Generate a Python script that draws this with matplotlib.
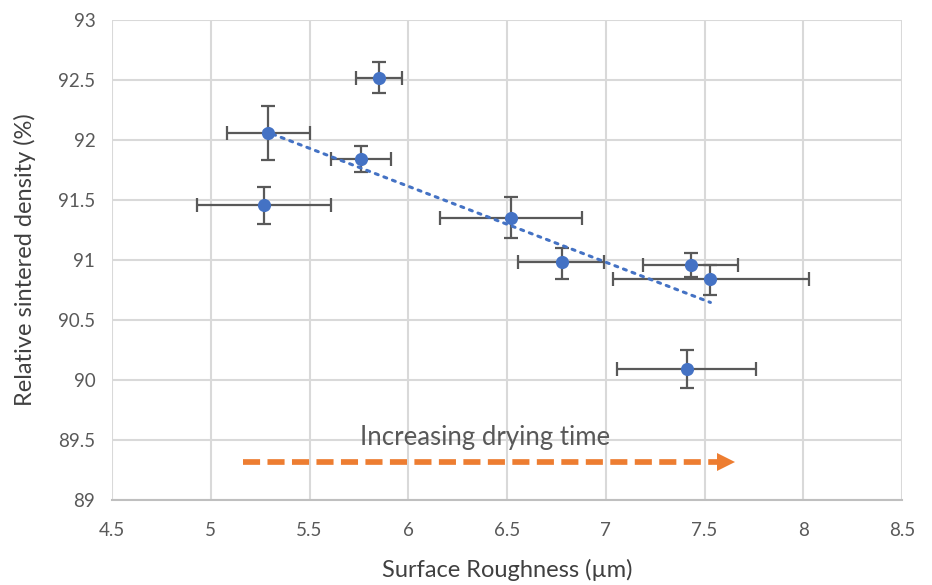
import matplotlib
matplotlib.use("Agg")
import matplotlib.pyplot as plt
import numpy as np

# Data
roughness = [5.29, 5.85, 5.76, 5.27, 6.52, 6.78, 7.43, 7.53, 7.41]
density = [92.06, 92.52, 91.84, 91.46, 91.35, 90.98, 90.96, 90.84, 90.09]
x_lo = [5.08, 5.735, 5.61, 4.93, 6.16, 6.557, 7.188, 7.036, 7.058]
x_hi = [5.50, 5.966, 5.912, 5.608, 6.879, 6.991, 7.671, 8.027, 7.759]
y_lo = [91.83, 92.39, 91.73, 91.30, 91.18, 90.84, 90.86, 90.71, 89.93]
y_hi = [92.28, 92.65, 91.95, 91.61, 91.525, 91.10, 91.06, 90.96, 90.25]
x_ticks = [4.5, 5, 5.5, 6, 6.5, 7, 7.5, 8, 8.5]
y_ticks = [89, 89.5, 90, 90.5, 91, 91.5, 92, 92.5, 93]
annotation_text = "Increasing drying time"

plt.rcParams['font.family'] = ['Lato', 'DejaVu Sans']

fig = plt.figure(figsize=(9.32, 5.85), dpi=100)
ax = fig.add_axes([112/932, 1-500/585, (902-112)/932, (500-20)/585])

x = np.array(roughness)
y = np.array(density)
xerr = np.vstack([x - np.array(x_lo), np.array(x_hi) - x])
yerr = np.vstack([y - np.array(y_lo), np.array(y_hi) - y])

ax.errorbar(x, y, xerr=xerr, yerr=yerr, fmt='none', ecolor='#595959',
            elinewidth=1.6, capsize=5, capthick=1.6, zorder=3)

# Linear trendline
m, b = np.polyfit(x, y, 1)
xt = np.array([x.min(), x.max()])
ax.plot(xt, m*xt + b, linestyle=(0, (1, 2)), color='#4472C4', linewidth=2.2,
        dash_capstyle='round', zorder=4)

ax.scatter(x, y, s=90, color='#4472C4', zorder=5, linewidths=0)

# Arrow annotation
ax.plot([5.163, 7.565], [89.32, 89.32], color='#ED7D31', linewidth=4.1,
        linestyle=(0, (3, 1.3)), zorder=3)
ax.plot([7.609], [89.32], marker='>', markersize=13, color='#ED7D31',
        markeredgewidth=0, linestyle='none', zorder=3)
ax.text(6.388, 89.52, annotation_text, ha='center', va='center', fontsize=18.5,
        color='#595959', zorder=3)

ax.set_xlim(4.5, 8.5)
ax.set_ylim(89, 93)
ax.set_xticks(x_ticks)
ax.set_yticks(y_ticks)
ax.set_xticklabels([f"{v:g}" for v in x_ticks])
ax.set_yticklabels([f"{v:g}" for v in y_ticks])
ax.grid(True, color='#D9D9D9', linewidth=1.5, zorder=0)
ax.set_axisbelow(True)
for s in ['top', 'right', 'left']:
    ax.spines[s].set_visible(False)
ax.spines['bottom'].set_color('#BFBFBF')
ax.spines['bottom'].set_linewidth(1.5)
ax.tick_params(length=0, labelsize=13.5, labelcolor='#595959')
ax.tick_params(axis='x', pad=16)
ax.tick_params(axis='y', pad=12)
ax.set_xlabel('Surface Roughness (µm)', fontsize=17, color='#404040', va='center')
ax.set_ylabel('Relative sintered density (%)', fontsize=17, color='#404040', va='center')
ax.xaxis.set_label_coords((507 - 112) / 790, (500 - 570) / 480)
ax.yaxis.set_label_coords((25 - 112) / 790, 0.5)

fig.savefig('out.png', dpi=100)
